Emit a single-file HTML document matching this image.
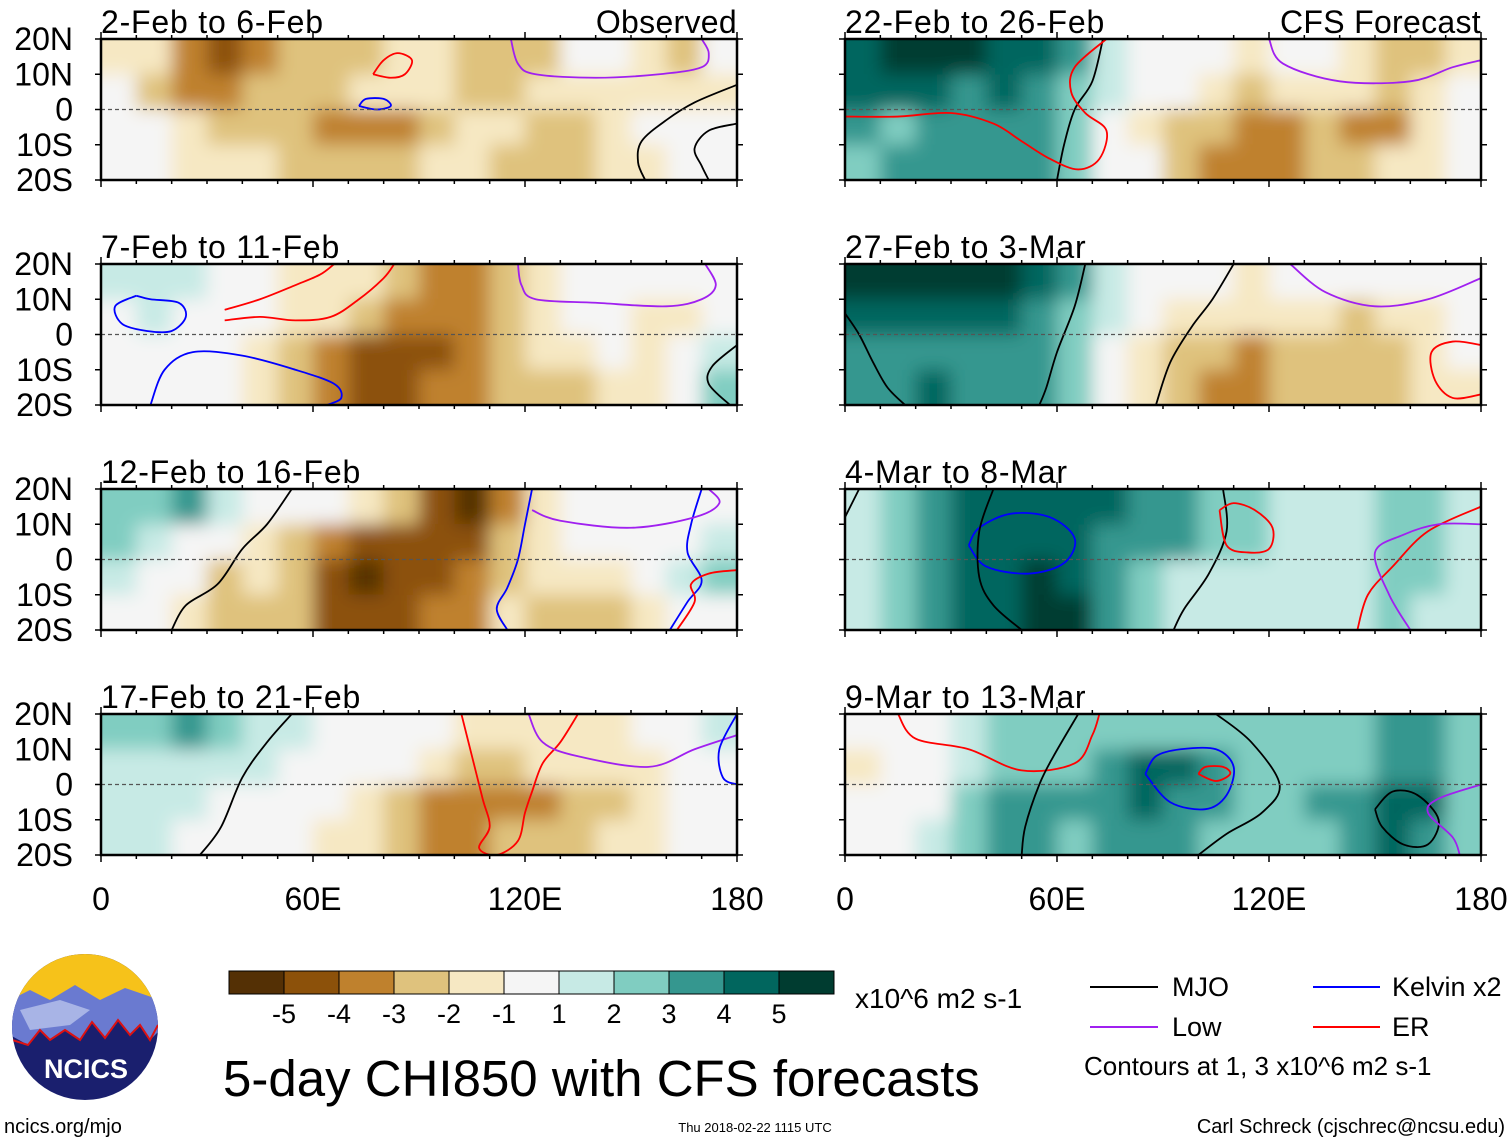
<!DOCTYPE html>
<html><head><meta charset="utf-8"><style>
body{margin:0;background:#fff;}
svg{display:block;font-family:"Liberation Sans",sans-serif;}
</style></head><body>
<svg id="chart" width="1510" height="1142" viewBox="0 0 1510 1142">
<defs>
<filter id="blur" x="-10%" y="-20%" width="120%" height="140%"><feGaussianBlur stdDeviation="9"/></filter>
<clipPath id="logoclip"><circle cx="85" cy="1027" r="73"/></clipPath>
</defs>
<g id="panels"></g>
<g id="colorbar"></g>
<g clip-path="url(#logoclip)">
<rect x="10" y="950" width="150" height="160" fill="#1a1f6e"/>
<rect x="10" y="950" width="150" height="50" fill="#f6c21a"/>
<path d="M10,1000 L30,990 L50,1000 L75,985 L100,1000 L125,988 L160,1000 L160,1030 L150,1040 L140,1025 L130,1035 L118,1020 L105,1038 L92,1022 L80,1040 L65,1030 L50,1040 L40,1030 L28,1045 L10,1035Z" fill="#6a7ad0"/>
<path d="M20,1010 L60,1000 L90,1010 L70,1025 L30,1030Z" fill="#a8b4e6"/>
<path d="M12,1040 L28,1045 L40,1030 L50,1040 L65,1030 L80,1040 L92,1022 L105,1038 L118,1020 L130,1035 L140,1025 L150,1040 L158,1025" stroke="#d11" stroke-width="2" fill="none"/>
</g>
<text x="86" y="1078" font-size="27" font-weight="bold" fill="#fff" text-anchor="middle">NCICS</text>
<text x="855" y="1008" font-size="28">x10^6 m2 s-1</text>
<text x="223" y="1096" font-size="51">5-day CHI850 with CFS forecasts</text>
<g>
<line x1="1090" y1="987" x2="1158" y2="987" stroke="#000" stroke-width="2"/><text x="1172" y="996" font-size="27">MJO</text>
<line x1="1090" y1="1027" x2="1158" y2="1027" stroke="#a020f0" stroke-width="2"/><text x="1172" y="1036" font-size="27">Low</text>
<line x1="1313" y1="987" x2="1380" y2="987" stroke="#0000ff" stroke-width="2"/><text x="1392" y="996" font-size="27">Kelvin x2</text>
<line x1="1313" y1="1027" x2="1380" y2="1027" stroke="#ff0000" stroke-width="2"/><text x="1392" y="1036" font-size="27">ER</text>
<text x="1084" y="1075" font-size="26">Contours at 1, 3 x10^6 m2 s-1</text>
</g>
<text x="4" y="1133" font-size="20">ncics.org/mjo</text>
<text x="755" y="1132" font-size="13" text-anchor="middle">Thu 2018-02-22 1115 UTC</text>
<text x="1505" y="1133" font-size="20" text-anchor="end">Carl Schreck (cjschrec@ncsu.edu)</text>
</svg>
<script>
const levels=[-5,-4,-3,-2,-1,1,2,3,4,5];
const colors=["#543005","#8c510a","#bf812d","#dfc27d","#f6e8c3","#f5f5f5","#c7eae5","#80cdc1","#35978f","#01665e","#003c30"];
const latLabels=["20N","10N","0","10S","20S"];
const lonTicks=[0,60,120,180];
const lonLabels=["0","60E","120E","180"];
const titles=["2-Feb to 6-Feb","7-Feb to 11-Feb","12-Feb to 16-Feb","17-Feb to 21-Feb","22-Feb to 26-Feb","27-Feb to 3-Mar","4-Mar to 8-Mar","9-Mar to 13-Mar"];
const p1=[[-1.5,-2,-3.5,-4.5,-4,-3,-2.5,-2.5,-1.5,-1.5,-2.5,-2.5,-2.5,0,0,-1.5,-2.5,0],[0,-2.5,-3.5,-3.5,-2.5,-2.5,-2.5,-1.5,-1.5,-1.5,-2.5,-2.5,-1.5,-1.5,-1.5,-1.5,-1.5,-1.5],[0,0,-1.5,-2.5,-2.5,-2.5,-3.5,-3.5,-3.5,-2.5,-1.5,-1.5,-2.5,-2.5,-1.5,0,0,0],[0,0,-1.5,-1.5,-1.5,-2.5,-2.5,-3,-2.5,-1.5,-1.5,-2.5,-2.5,-2.5,-1.5,-1.5,0,0]];
const p2=[[1,1.5,1.5,0,0,-1.5,-1.5,-1.5,-2.5,-3.5,-3.5,-2.5,-1.5,0,0,0,0,0],[0.5,1.5,0.5,0,0,-1.5,-1.5,-2.5,-3.5,-3.5,-3.5,-2.5,-1.5,0,0,-1.5,-1.5,0],[0,0,0,0,-1.5,-2.5,-3.5,-4.5,-4.5,-4.5,-3.5,-2.5,-1.5,-1.5,-1,-1.5,-1,1.5],[0,0,0,-1,-1.5,-2.5,-3.5,-4.5,-4.5,-3.5,-3.5,-2.5,-2.5,-2.5,-1.5,-1.5,-0.5,2.5]];
const p3=[[2,2.5,3,1.5,0,0,0,-1.5,-3,-4.5,-5.5,-3.5,-1.5,0,0,0,0,0],[2.5,1.5,0,0,-1.5,-2.5,-3.5,-4.5,-4.5,-5,-4.5,-3,-1.5,-1,0,0,0.5,1.5],[1.5,0,0,-2.5,-2,-3,-4.5,-5.5,-4.5,-4.5,-3.5,-2.5,-2,-1.5,-1.5,-1,1,2.5],[0,0,-1.5,-2.5,-2.5,-3,-4.5,-4.5,-4.5,-3.5,-3.5,-2,-2.5,-2.5,-2.5,-1.5,0,0]];
const p4=[[2.5,2,3,2,1.5,1.5,0,0,0,0,-1.5,-1.5,-1.5,-1.5,-1.5,0,0,1.5],[1.5,1.5,1.5,1.5,1.5,0,0,0,0,-1.5,-2.5,-2.5,-2,-2,-1.5,-1.5,0,0.5],[1.5,1.5,1.5,0,0,0,0,-1.5,-2.5,-3.5,-3.5,-3.5,-3.5,-3,-2.5,-1.5,0,0],[1.5,1.5,0.5,0,0,0,-1.5,-2,-2.5,-3.5,-3.5,-2.5,-2.5,-2.5,-2,-1.5,0,0]];
const p5=[[4.5,5.5,5.5,5.5,4.5,4.5,3,1.5,0,0,-1,-1.5,0,0,-1.5,-2.5,-2.5,-1.5],[4.5,4.5,4.5,3.5,4.5,3.5,2.5,1.5,0,-1,-1.5,-2.5,-2,-1.5,-1.5,-2.5,-1.5,0],[3.5,2.5,3.5,3.5,3.5,3.5,2.5,0,-1.5,-2.5,-3,-3.5,-3.5,-2.5,-3.5,-3.5,-1.5,0],[2.5,3,3.5,3.5,3.5,3.5,2.5,0,0,-2.5,-3.5,-3.5,-3.5,-2.5,-2.5,-2,-1.5,0]];
const p6=[[5,5.5,5.5,5.5,5,4.5,3.5,1.5,0,0,0,-1.5,0,0,0,0,0,-1],[4.5,4.5,4.5,4.5,4,3.5,2.5,1,0,-1.5,-1.5,-1.5,-1.5,-1.5,-2.5,-1.5,-1.5,0],[3.5,3.5,3.5,3.5,3.5,3.5,2.5,0,-1.5,-2.5,-2.5,-3.5,-3,-2.5,-2.5,-2.5,-1.5,-1],[3.5,3.5,4.5,3.5,3.5,3.5,2.5,0,-1.5,-2.5,-3.5,-3.5,-2.5,-2.5,-2.5,-2.5,-1.5,-1.5]];
const p7=[[1.5,2.5,3.5,4.5,4.5,4.5,4.5,4.5,3.5,3.5,2.5,2.5,1.5,1.5,1.5,2.5,2.5,1.5],[1.5,2.5,3.5,4.5,4.5,4.5,4.5,3.5,3.5,3.5,2.5,2.5,1.5,1.5,1.5,2.5,2.5,1.5],[1.5,2.5,3.5,4.5,4.5,5.5,4.5,3.5,2.5,1.5,1.5,1.5,1.5,1.5,1.5,2,2.5,1.5],[1.5,2.5,3.5,4.5,4.5,5.5,5.5,3.5,2.5,1.5,1.5,1.5,1.5,1.5,1.5,2.5,1.5,1.5]];
const p8=[[0,0,0,1.5,2.5,2.5,2.5,2.5,2.5,2.5,2.5,2.5,2.5,2.5,2.5,3.5,3.5,2.5],[-1.5,0,0,1.5,2.5,2.5,2.5,3.5,4.5,4.5,3.5,2.5,2.5,2.5,2.5,3.5,3.5,2.5],[-1,0,0,2.5,3.5,3.5,3.5,3.5,4.5,3.5,3.5,2.5,2.5,3,3.5,4.5,4.5,2.5],[0,0,1,2.5,3.5,3.5,2.5,3.5,3.5,3.5,2.5,2.5,2.5,2.5,3.5,4.5,3.5,2.5]];
const panelData=[p1,p2,p3,p4,p5,p6,p7,p8];
// contour lines: [panel, type, [lon,lat,...]]
const contourPanels=[0,0,0,0,0,1,1,1,1,1,1,2,2,2,2,2,3,3,3,3,4,4,4,5,5,5,5,5,6,6,6,6,6,6,6,7,7,7,7,7,7,7];
const contourTypes=["low","er","kelvin","mjo","mjo","low","er","er","kelvin","kelvin","mjo","kelvin","kelvin","low","mjo","er","mjo","er","low","kelvin","mjo","er","low","mjo","mjo","mjo","er","low","kelvin","mjo","mjo","mjo","er","er","low","er","kelvin","er","mjo","mjo","mjo","low"];
const contourPts=[
[116,20,118,13,123,10,140,9,158,10,170,12,172,16,170,20],
[77,10,80,14,84,16,88,14,86,10,82,9,77,10],
[73,1,75,3,80,3,82,1,78,0,73,1],
[180,7,168,2,160,-3,153,-9,152,-15,154,-20],
[180,-4,172,-6,168,-11,170,-16,172,-20],
[118,20,119,14,123,10,140,9,160,8,170,10,174,14,171,20],
[35,7,45,10,55,14,62,17,66,20],
[35,4,45,5,55,4,65,5,73,10,80,16,83,20],
[10,11,4,8,6,3,13,1,20,1,24,5,22,9,14,10,10,11],
[14,-20,18,-10,26,-5,40,-6,55,-10,66,-14,68,-18,64,-20],
[180,-3,173,-9,172,-14,178,-20],
[122,20,120,10,118,0,115,-8,112,-14,115,-20],
[170,20,167,10,166,2,170,-6,166,-12,161,-20],
[122,14,130,11,150,9,168,12,175,16,172,20],
[54,20,47,10,40,3,33,-7,24,-13,20,-20],
[180,-3,172,-4,167,-7,168,-12,163,-20],
[54,20,47,12,40,2,34,-12,28,-20],
[102,20,105,8,108,-4,110,-12,107,-18,112,-20,118,-16,120,-8,122,-2,125,6,130,12,135,20],
[121,20,125,12,135,8,155,5,168,10,180,14],
[180,20,175,10,176,2,180,0],
[73,20,70,8,65,0,62,-10,60,-20],
[0,-2,15,-2,30,-1,42,-4,50,-9,58,-14,66,-17,72,-14,74,-6,68,-1,64,5,65,12,74,20],
[120,20,124,13,140,8,160,8,172,12,180,14],
[0,6,4,0,8,-8,12,-15,17,-20],
[68,20,65,8,60,-5,57,-15,55,-20],
[110,20,104,10,98,2,92,-8,88,-20],
[180,-3,172,-2,166,-5,167,-13,172,-18,180,-17],
[126,20,136,12,150,8,165,10,180,16],
[35,4,38,9,47,13,58,12,65,6,62,-1,52,-4,40,-2,35,4],
[4,20,0,12],
[42,20,38,8,38,-5,42,-13,50,-20],
[107,20,108,8,103,-4,96,-14,93,-20],
[180,15,165,8,155,-2,148,-10,145,-20],
[106,14,110,16,116,14,121,9,120,3,114,2,108,4,106,14],
[180,10,168,10,158,7,150,2,154,-10,160,-20],
[15,20,20,13,35,10,50,4,65,6,70,14,72,20],
[85,3,88,8,95,10,105,10,110,5,108,-3,102,-7,92,-5,85,3],
[100,3,102,5,107,5,109,3,105,1,100,3],
[150,-7,155,-2,162,-3,168,-10,165,-17,158,-17,152,-12,150,-7],
[66,20,59,8,55,0,51,-12,50,-20],
[105,20,115,12,123,0,118,-8,108,-14,100,-20],
[180,0,168,-4,165,-8,172,-15,174,-20],
[0,20,20,13,40,8,55,3,62,3,68,10,73,20]];
const strokeOf={mjo:"#000",low:"#a020f0",kelvin:"#0000ff",er:"#ff0000"};
const NS="http://www.w3.org/2000/svg";
function mk(tag,attrs,parent){const e=document.createElementNS(NS,tag);for(const k in attrs)e.setAttribute(k,attrs[k]);parent.appendChild(e);return e;}
function colorOf(v){let i=0;while(i<levels.length&&v>=levels[i])i++;return colors[i];}
function smooth(pts){let d='M'+pts[0][0]+','+pts[0][1];
  for(let i=0;i<pts.length-1;i++){const p0=pts[Math.max(i-1,0)],p1=pts[i],p2=pts[i+1],p3=pts[Math.min(i+2,pts.length-1)];
    d+=' C'+(p1[0]+(p2[0]-p0[0])/6)+','+(p1[1]+(p2[1]-p0[1])/6)+' '+(p2[0]-(p3[0]-p1[0])/6)+','+(p2[1]-(p3[1]-p1[1])/6)+' '+p2[0]+','+p2[1];}
  return d;}
const W=636,H=141;
const root=document.getElementById('panels');
const scales=[];
panelData.forEach((data,p)=>{
  const col=p<4?0:1,row=p%4;
  const X0=col?845:101,Y0=39+row*225;
  const xs=lon=>X0+lon/180*W, ys=lat=>Y0+(20-lat)/40*H;
  const g=mk('g',{},root);
  
  
  const cp=mk('clipPath',{id:'cp'+p},g);mk('rect',{x:X0,y:Y0,width:W,height:H},cp);
  const cg=mk('g',{'clip-path':'url(#cp'+p+')'},g);
  const fg=mk('g',{filter:'url(#blur)'},cg);
  data.forEach((r,i)=>r.forEach((v,j)=>{
    let x=xs(j*10),y=ys(20-i*10),w=xs((j+1)*10)-x,h=ys(10-i*10)-y;
    if(j==0){x-=25;w+=25;} if(j==r.length-1)w+=25;
    if(i==0){y-=25;h+=25;} if(i==data.length-1)h+=25;
    const c=mk('rect',{x:x,y:y,width:w+0.5,height:h+0.5,fill:colorOf(v)},fg);
    
    
  }));
  const lg=mk('g',{'clip-path':'url(#cp'+p+')'},g);
  contourPts.forEach((arr,k)=>{ if(contourPanels[k]!==p)return;
    const pts=[];for(let m=0;m<arr.length;m+=2)pts.push([xs(arr[m]),ys(arr[m+1])]);
    const path=mk('path',{d:smooth(pts),fill:'none',stroke:strokeOf[contourTypes[k]],'stroke-width':1.8},lg);
    
    
  });
  mk('line',{x1:X0,y1:ys(0),x2:X0+W,y2:ys(0),stroke:'#555','stroke-width':1.2,'stroke-dasharray':'4,3'},g);
  mk('rect',{x:X0,y:Y0,width:W,height:H,fill:'none',stroke:'#000','stroke-width':2.5},g);
  for(let lon=0;lon<=180;lon+=10){const t=lon%60==0?7:4;
    mk('line',{x1:xs(lon),y1:Y0,x2:xs(lon),y2:Y0-t,stroke:'#000','stroke-width':1.5},g);
    mk('line',{x1:xs(lon),y1:Y0+H,x2:xs(lon),y2:Y0+H+t,stroke:'#000','stroke-width':1.5},g);}
  latLabels.forEach((l,k)=>{const y=ys(20-k*10);
    mk('line',{x1:X0-6,y1:y,x2:X0,y2:y,stroke:'#000','stroke-width':1.5},g);
    mk('line',{x1:X0+W,y1:y,x2:X0+W+6,y2:y,stroke:'#000','stroke-width':1.5},g);
    if(!col){const t=mk('text',{x:73,y:y+11,'font-size':32,'text-anchor':'end'},g);t.textContent=l;}});
  const tt=mk('text',{x:X0,y:Y0-6,'font-size':32,'letter-spacing':0.8},g);tt.textContent=titles[p];
  if(row==0){const r=mk('text',{x:X0+W,y:Y0-6,'font-size':32,'text-anchor':'end','letter-spacing':0.3},g);r.textContent=col?'CFS Forecast':'Observed';}
  if(row==3){lonTicks.forEach((lon,k)=>{const t=mk('text',{x:xs(lon),y:910,'font-size':32,'text-anchor':'middle'},g);t.textContent=lonLabels[k];});}
});
const cb=document.getElementById('colorbar');
colors.forEach((c,i)=>{const r=mk('rect',{x:229+i*55,y:971,width:55,height:23,fill:c,stroke:'#000','stroke-width':1},cb);
  
  });
levels.forEach((l,i)=>{const t=mk('text',{x:284+i*55,y:1023,'font-size':27,'text-anchor':'middle'},cb);t.textContent=l;});
</script>
</body></html>
